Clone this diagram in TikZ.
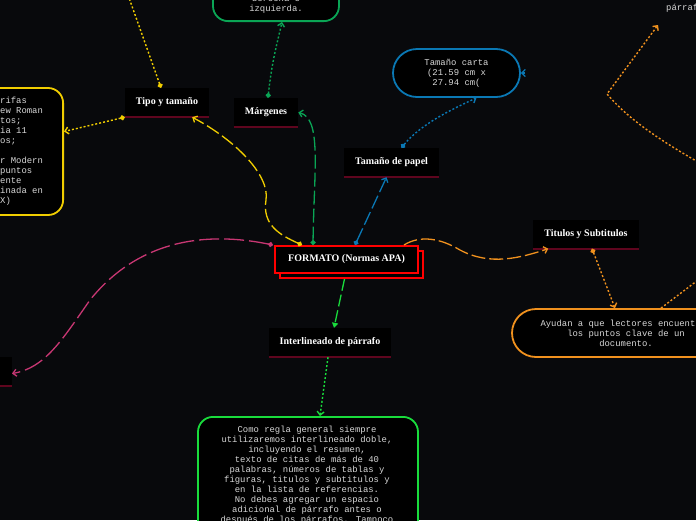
\documentclass[tikz,border=0pt]{standalone}
\usepackage{fontspec}
\setmainfont{Liberation Serif}
\newfontfamily\monofont{Liberation Mono}
\usetikzlibrary{arrows.meta,shadows}

\definecolor{fondo}{RGB}{8,9,12}
\definecolor{amarillo}{RGB}{240,205,0}
\definecolor{verdeosc}{RGB}{10,165,85}
\definecolor{verdecl}{RGB}{25,220,60}
\definecolor{azul}{RGB}{10,120,180}
\definecolor{naranja}{RGB}{240,145,30}
\definecolor{rosa}{RGB}{200,55,115}
\definecolor{granate}{RGB}{95,5,30}
\definecolor{gristxt}{RGB}{215,215,215}

\tikzset{
  tema/.style={fill=black, text=white, font=\bfseries\fontsize{10}{12}\selectfont,
    minimum height=29pt, inner xsep=11pt, inner ysep=0pt},
  formato/.style={tema, draw=red, line width=2pt, minimum width=143pt, minimum height=27pt,
    copy shadow={shadow xshift=5pt, shadow yshift=-5pt}},
  caja/.style={fill=black, line width=1.8pt, rounded corners=15pt, inner sep=0pt},
  pildora/.style={caja, rounded corners=24pt, minimum height=48pt},
  mono/.style={text=gristxt, font=\monofont\fontsize{8.9}{10}\selectfont, inner sep=0pt},
  punto/.style={{Circle[length=5pt]}-{Straight Barb[length=3.5pt,width=7pt]}},
  flecha/.style={-{Straight Barb[length=3.5pt,width=7pt]}},
  largo/.style={line width=1.3pt, dash pattern=on 14pt off 4pt},
  puntos/.style={line width=1.4pt, dash pattern=on 2pt off 2pt},
}

\begin{document}
\begin{tikzpicture}[x=1pt, y=-1pt]
\useasboundingbox (0,0) rectangle (696,520);
\fill[fondo] (0,0) rectangle (696,520);
\clip (0,0) rectangle (696,520);

% ramas
\node[tema] (tipo) at (167,102.5) {Tipo y tamaño};
\node[tema] (marg) at (266,112.5) {Márgenes};
\node[tema] (papel) at (391.5,162.5) {Tamaño de papel};
\node[tema] (titul) at (586,234) {Titulos y Subtitulos};
\node[tema] (inter) at (330,342.5) {Interlineado de párrafo};
\node[tema, anchor=east, minimum width=60pt] (izq) at (12,371.5) {};
\foreach \n in {tipo,marg,papel,titul,inter,izq}
  \draw[granate, line width=1.6pt] (\n.south west) -- (\n.south east);

\node[formato] (fmt) at (346.5,259.5) {FORMATO (Normas APA)};

% cajas de texto
\node[pildora, draw=azul, minimum width=127pt, mono, align=center] (papeltxt) at (456.5,73)
  {Tamaño carta\\(21.59 cm x\\27.94 cm(};
\node[pildora, draw=naranja, minimum width=228pt, mono, align=center] (titultxt) at (626,333)
  {Ayudan a que lectores encuentren\\los puntos clave de un\\documento.};

\node[caja, draw=verdeosc, anchor=south, minimum width=126pt, minimum height=100pt] (margtxt) at (276,22) {};
\node[mono, align=center, anchor=south] (margtexto) at ([yshift=8pt]margtxt.south) {derecha e\\izquierda.};

\node[caja, draw=amarillo, anchor=east, minimum width=170pt, minimum height=127pt] (tipotxt) at (64,151.5) {};
\node[mono, align=left, anchor=north west] (tipotexto) at (0,97)
  {rifas\\ew Roman\\tos;\\ia 11\\os;\\[10pt]r Modern\\ puntos\\ente\\inada en\\X)};

\node[caja, draw=verdecl, anchor=north, minimum width=220pt, minimum height=150pt] (intertxt) at (308,416) {};
\node[mono, align=center, anchor=north] (intertexto) at (307,425.5)
  {Como regla general siempre\\utilizaremos interlineado doble,\\incluyendo el resumen,\\
   texto de citas de más de 40\\palabras, números de tablas y\\figuras, titulos y subtitulos y\\
   en la lista de referencias.\hspace{28pt}\\No debes agregar un espacio\\adicional de párrafo antes o\\
   después de los párrafos. Tampoco};

\node[mono, anchor=base west] (parrtxt) at (666,10) {párrafo};

\coordinate (tipofuera) at (128,-5);
\coordinate (titulfuera) at (702,277);
\coordinate (parrfuera) at (705,166);
\coordinate (parresq) at (607,94);
\coordinate (parrpunta) at (658,25);
\coordinate (papelfuera) at (525,73);

% conectores
\draw[amarillo, largo, punto] ([xshift=28pt]fmt.north west)
  .. controls (280,235) and (262,225) .. (266,200)
  .. controls (270,175) and (235,140) .. ([xshift=-17pt]tipo.south east);
\draw[verdeosc, largo, punto] ([xshift=39pt]fmt.north west)
  .. controls (314,170) and (322,118) .. (marg.east);
\draw[azul, largo, punto] ([xshift=81pt]fmt.north west) -- ([xshift=-5pt]papel.south);
\draw[rosa, largo, dash pattern=on 20pt off 5pt, punto] ([xshift=-1pt]fmt.north west)
  .. controls (190,228) and (130,250) .. (90,300)
  .. controls (62,340) and (45,368) .. ([yshift=-2pt]izq.east);
\draw[naranja, largo, flecha] ([xshift=-15pt]fmt.north east)
  .. controls (420,235) and (440,238) .. (460,250)
  .. controls (490,266) and (520,258) .. ([xshift=15pt]titul.south west);
\draw[verdecl, line width=1.3pt, dash pattern=on 12pt off 4pt, -{Triangle[length=5pt,width=6pt]}]
  ([xshift=-2pt,yshift=-5pt]fmt.south) -- ([xshift=4pt]inter.north);

\draw[azul, puntos, punto] ([xshift=10pt]papel.north)
  .. controls (420,125) and (450,110) .. ([xshift=20pt]papeltxt.south);
\draw[verdeosc, puntos, punto] ([xshift=2pt]marg.north)
  .. controls (272,60) and (278,40) .. ([xshift=6pt]margtxt.south);
\draw[amarillo, puntos, {Circle[length=5pt]}-] ([xshift=-6pt]tipo.north) -- (tipofuera);
\draw[amarillo, puntos, punto] (tipo.south west) -- ([yshift=20pt]tipotxt.east);
\draw[verdecl, puntos, flecha] ([xshift=-2pt]inter.south) -- ([xshift=12pt]intertxt.north);
\draw[naranja, puntos, punto] ([xshift=6pt]titul.south) -- ([xshift=-11pt]titultxt.north);
\draw[naranja, puntos] ([xshift=35pt]titultxt.north) -- (titulfuera);
\draw[naranja, puntos, flecha] (parrfuera) .. controls (650,135) and (625,115) .. (parresq) -- (parrpunta);
\draw[azul, line width=1.3pt, flecha] (papelfuera) -- (papeltxt.east);
\end{tikzpicture}
\end{document}
